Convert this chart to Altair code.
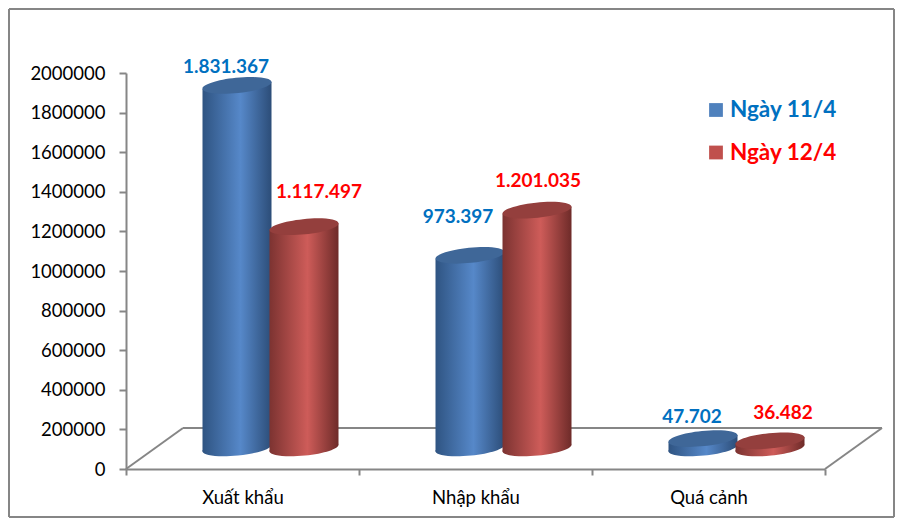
import altair as alt
import pandas as pd

categories = ["Xuất khẩu", "Nhập khẩu", "Quá cảnh"]
series_names = ["Ngày 11/4", "Ngày 12/4"]
values_11 = [1831367, 973397, 47702]
values_12 = [1117497, 1201035, 36482]
labels_11 = ["1.831.367", "973.397", "47.702"]
labels_12 = ["1.117.497", "1.201.035", "36.482"]

W, H = 699, 396
FONT = "Lato"
AXIS_C = "#868686"
xq = alt.Scale(domain=[0, 3], range=[28, W + 28])
yq = alt.Scale(domain=[0, 2000000], range=[H - 21, -21], nice=False, zero=False)
PX = 2000000 / H
HALF = 34.5 / 233
SHIFT = 33.5 / 233
TILT = 3.5 * PX
ELLIPSE = "M-0.995 0.103 A1 0.22 -5.8 1 1 0.995 -0.103 A1 0.22 -5.8 1 1 -0.995 0.103 Z"
SIZE = (2 * 34.7) ** 2


def grad(dark1, mid, dark2):
    return alt.Gradient(gradient="linear", x1=0, y1=0, x2=1, y2=0, stops=[
        alt.GradientStop(color=dark1, offset=0),
        alt.GradientStop(color=mid, offset=0.55),
        alt.GradientStop(color=dark2, offset=1)])


BLUE = grad("#2F5482", "#5688C9", "#2C4D78")
RED = grad("#7C3331", "#CE5C59", "#6E2B29")
TOP = {0: "#3F6798", 1: "#943F3D"}
COL = {0: "#0070C0", 1: "#FF0000"}


def rule(x, y, x2, y2):
    return alt.Chart(pd.DataFrame({"a": [0]})).mark_rule(color=AXIS_C, strokeWidth=2).encode(
        x=alt.value(x), y=alt.value(y), x2=alt.value(x2), y2=alt.value(y2))


layers = []
# frame
layers += [rule(-117, -64, -117, 444), rule(-117, -64, 768, -64),
           rule(768, -64, 768, 444), rule(-117, 444, 768, 444)]
# floor
layers += [rule(0, H, 57, H - 41), rule(57, H - 41, W + 57, H - 41), rule(W, H, W + 57, H - 41)]
# axes
axis_df = pd.DataFrame({"cat": categories, "v": [0, 0, 0]})
layers.append(alt.Chart(axis_df).mark_bar(opacity=0).encode(
    x=alt.X("cat:N", sort=categories,
            scale=alt.Scale(domain=categories, paddingInner=0, paddingOuter=0),
            axis=alt.Axis(title=None, labelAngle=0, labelFont=FONT, labelFontSize=18.5, labelColor="#000000",
                          domainColor=AXIS_C, domainWidth=2, tickColor=AXIS_C, tickWidth=2, tickSize=6,
                          tickBand="extent", labelPadding=13)),
    y=alt.Y("v:Q", scale=alt.Scale(domain=[0, 2000000], nice=False),
            axis=alt.Axis(title=None, values=list(range(0, 2000001, 200000)), format="d", labelFont=FONT,
                          labelFontSize=18.5, labelColor="#000000", domainColor=AXIS_C, domainWidth=2,
                          tickColor=AXIS_C, tickWidth=2, tickSize=7, labelPadding=14, grid=False))))

offsets = {(0, 0): (-11, -18), (0, 1): (15, -35), (1, 0): (-12, -38), (1, 1): (1, -29),
           (2, 0): (-11, -22), (2, 1): (13, -28)}
text_layers = []
for i, cat in enumerate(categories):
    for s, (vals, labs) in enumerate([(values_11, labels_11), (values_12, labels_12)]):
        v = vals[i]
        pos = i + 0.5 + (SHIFT if s else -SHIFT)
        body = pd.DataFrame({"x": [pos - HALF, pos + HALF],
                             "top": [v - TILT, v + TILT],
                             "bot": [-TILT, TILT]})
        pt = pd.DataFrame({"x": [pos], "y0": [0], "y1": [v], "label": [labs[i]]})
        fill = RED if s else BLUE
        layers.append(alt.Chart(pt).mark_point(filled=True, opacity=1, strokeWidth=0, shape=ELLIPSE, size=SIZE,
                                               color=fill).encode(
            x=alt.X("x:Q", scale=xq, axis=None), y=alt.Y("y0:Q", scale=yq, axis=None)))
        layers.append(alt.Chart(body).mark_area(color=fill, orient="vertical").encode(
            x=alt.X("x:Q", scale=xq, axis=None), y=alt.Y("top:Q", scale=yq, axis=None), y2="bot:Q"))
        layers.append(alt.Chart(pt).mark_point(filled=True, opacity=1, strokeWidth=0, shape=ELLIPSE, size=SIZE,
                                               color=TOP[s]).encode(
            x=alt.X("x:Q", scale=xq, axis=None), y=alt.Y("y1:Q", scale=yq, axis=None)))
        dx, dy = offsets[(i, s)]
        text_layers.append(alt.Chart(pt).mark_text(font=FONT, fontSize=19, fontWeight="bold", color=COL[s],
                                                   dx=dx, dy=dy, baseline="middle").encode(
            x=alt.X("x:Q", scale=xq, axis=None), y=alt.Y("y1:Q", scale=yq, axis=None), text="label:N"))
layers += text_layers

# legend
for s, name in enumerate(series_names):
    ypx = 37 + 42.5 * s
    d = pd.DataFrame({"name": [name]})
    layers.append(alt.Chart(d).mark_square(size=190, opacity=1, color=["#4F81BD", "#C0504D"][s]).encode(
        x=alt.value(590), y=alt.value(ypx)))
    layers.append(alt.Chart(d).mark_text(font=FONT, fontSize=22.5, fontWeight="bold", color=COL[s], align="left",
                                         baseline="middle").encode(
        x=alt.value(604), y=alt.value(ypx), text="name:N"))

chart = alt.layer(*layers).resolve_scale(x="independent", y="independent").properties(
    width=W, height=H,
    padding={"left": 118, "top": 65, "right": 70, "bottom": 49},
    autosize=alt.AutoSizeParams(type="none"),
    background="#ffffff",
).configure_view(stroke=None)

chart.save("out.html", embed_options={"renderer": "svg", "actions": False})
